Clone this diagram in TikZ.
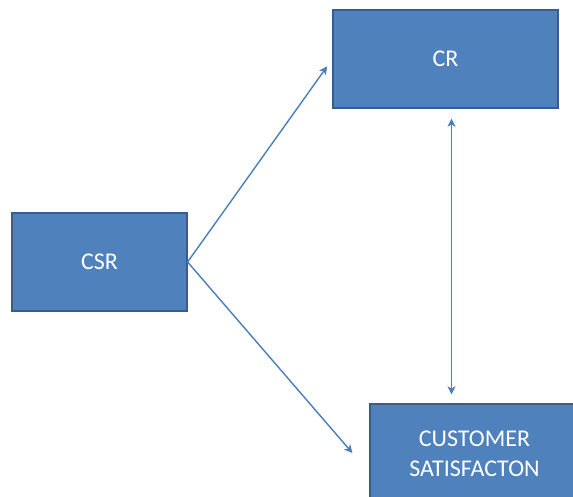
\documentclass[tikz,border=0pt]{standalone}
\usepackage{fontspec}
\setmainfont{Carlito}
\usepackage{tikz}
\usetikzlibrary{positioning,calc,arrows.meta}
\definecolor{boxBlue}{HTML}{4F81BD}
\definecolor{boxEdge}{HTML}{385D8A}
\definecolor{arrowBlue}{HTML}{4A7EBB}

\begin{document}
\begin{tikzpicture}[x=1pt, y=-1pt,
    blockbox/.style={draw=boxEdge, line width=1.2pt, fill=boxBlue, text=white, align=center,
      font=\fontsize{24}{30}\selectfont, inner sep=0pt},
    link/.style={draw=arrowBlue, line width=1.4pt, -{Stealth[length=8pt, width=8pt, inset=2pt]}}]
        \clip (0,0) rectangle (573,497);
        \node[blockbox, minimum width=225pt, minimum height=98pt] (cr) at (445.5,59) {CR};
        \node[blockbox, minimum width=175pt, minimum height=98pt] (csr) at (99.5,262) {CSR};
        \node[blockbox, minimum width=209pt, minimum height=100pt] (cs) at (474.5,454)
          {CUSTOMER\\SATISFACTON};
        \draw[link, shorten >=9pt] (csr.east) -- (cr.west);
        \draw[link] (csr.east) -- ($(cs.west)+(-17,-1)$);
        \draw[link, {Stealth[length=8pt, width=8pt, inset=2pt]}-{Stealth[length=8pt, width=8pt, inset=2pt]},
          shorten <=10pt, shorten >=9pt] ([xshift=6pt]cr.south) -- ([xshift=6pt]cr.south |- cs.north);
    \end{tikzpicture}
\end{document}
